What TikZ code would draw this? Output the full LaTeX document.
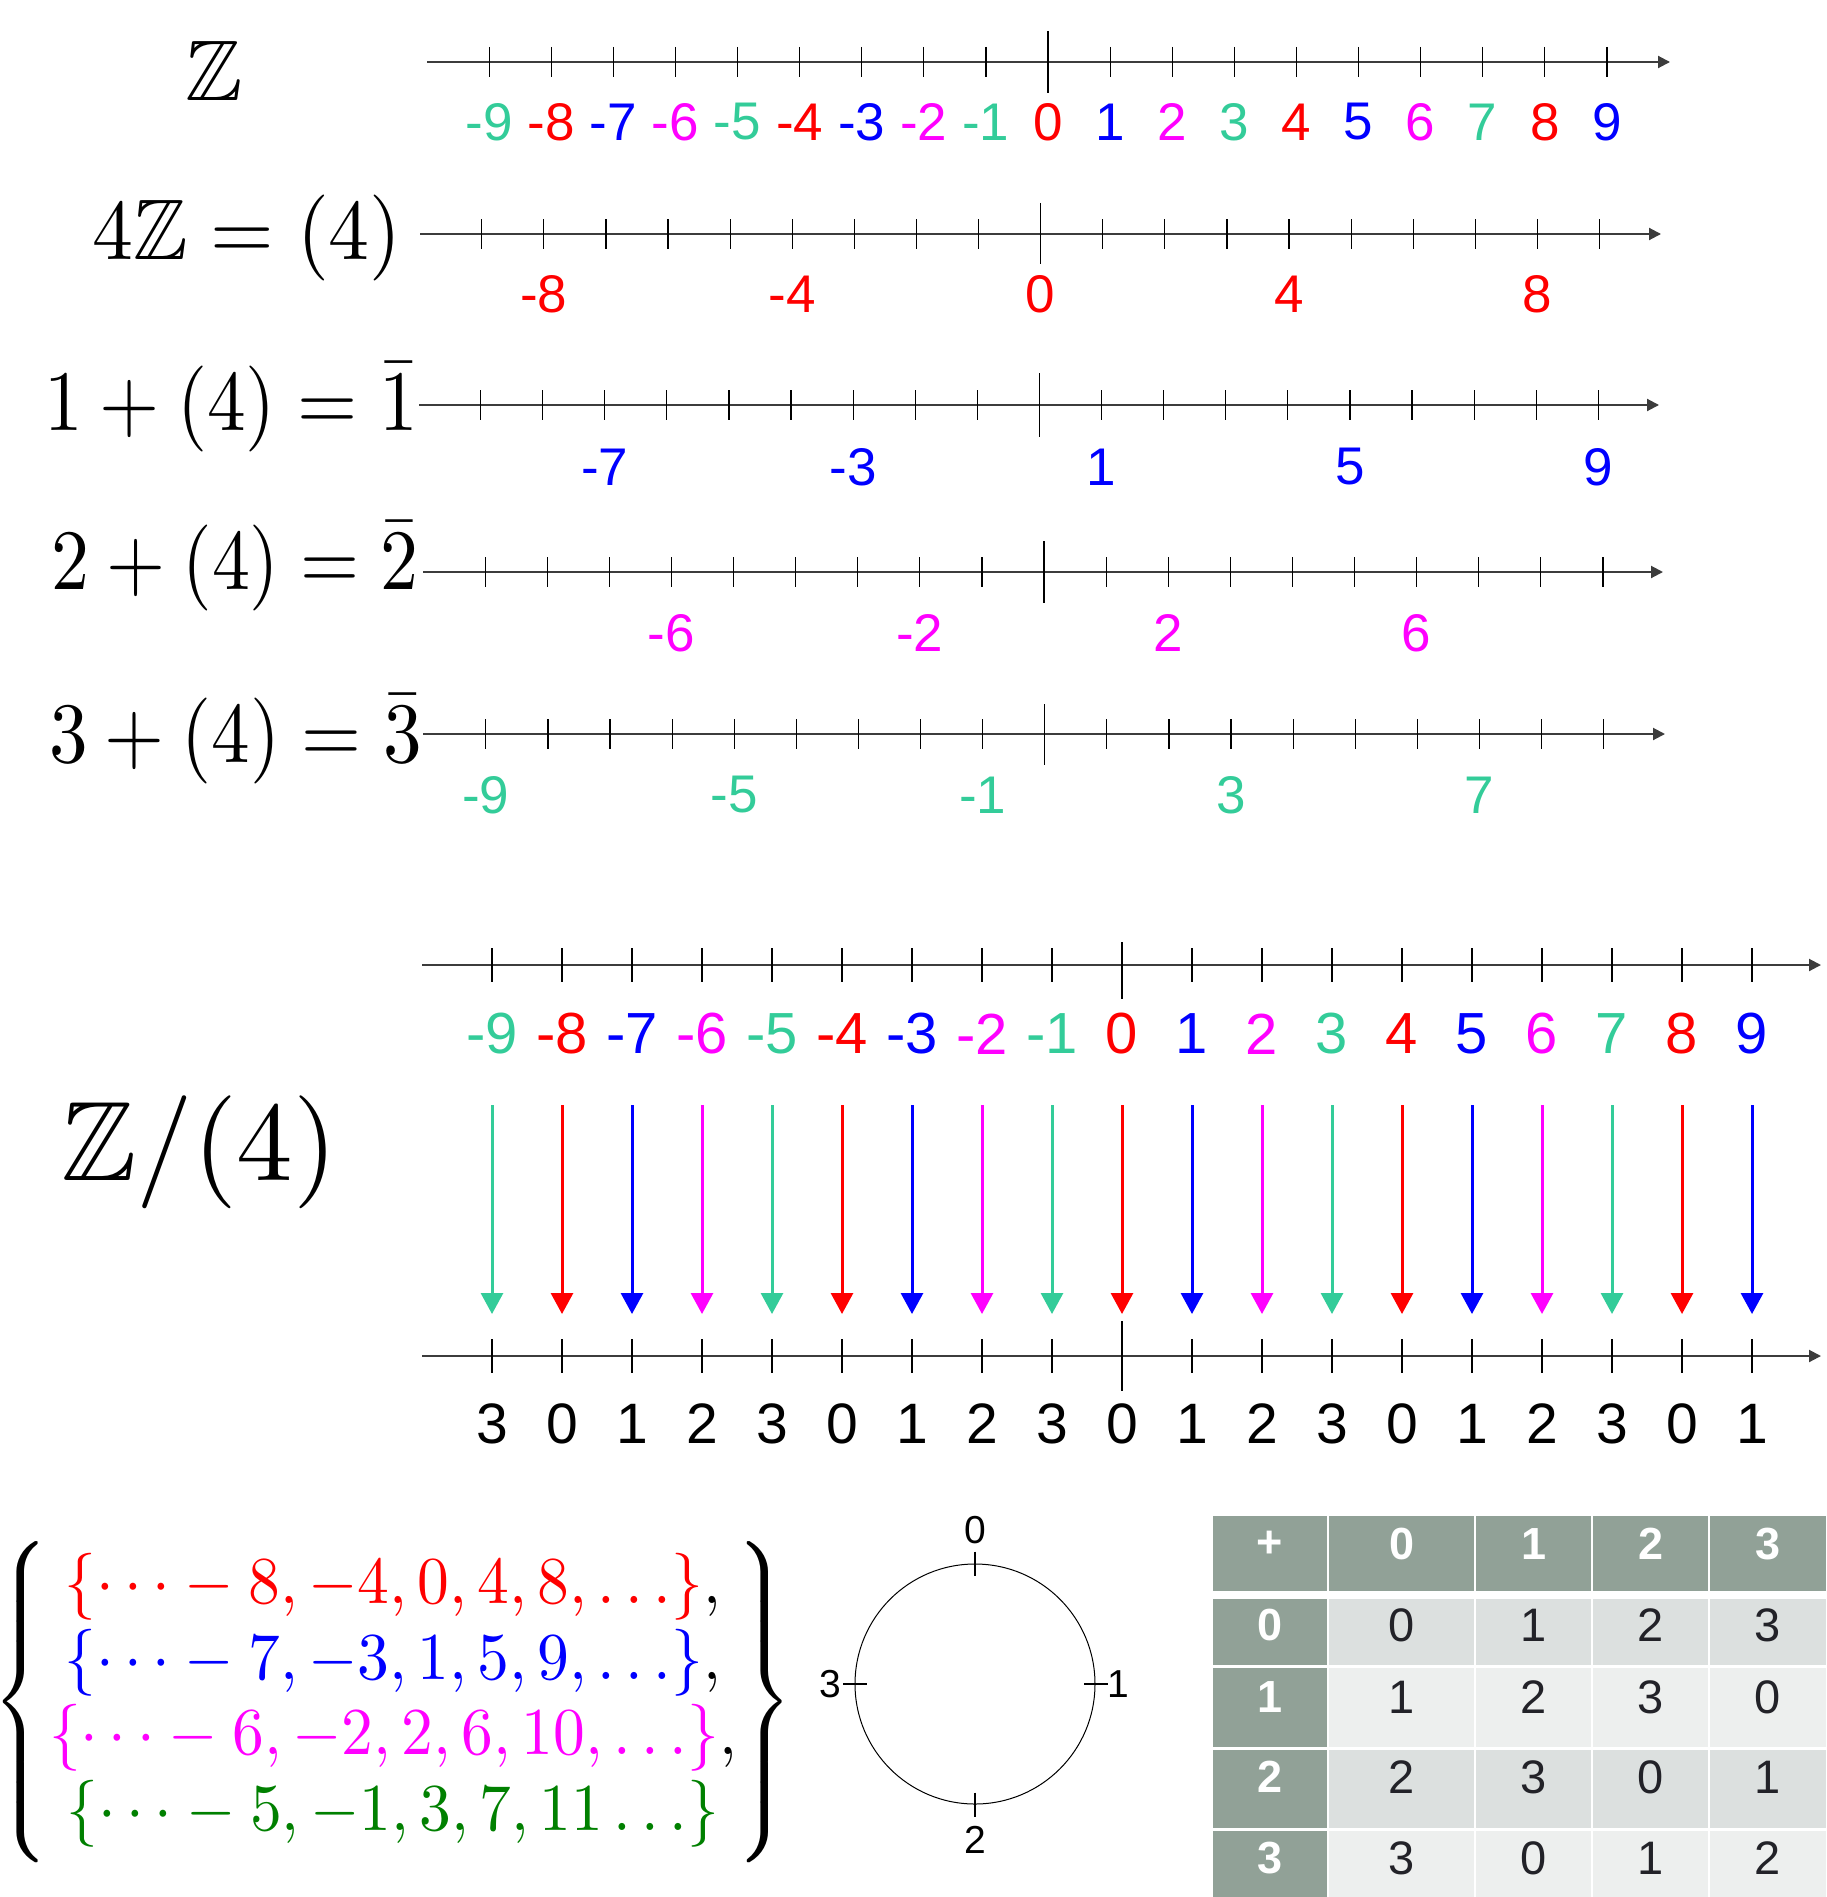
\documentclass[tikz,border=0pt]{standalone}
\usepackage{amsmath,amssymb}
\usepackage{graphicx}
\usepackage[no-math]{fontspec}
\setmainfont{Liberation Sans}
\usetikzlibrary{arrows.meta}
\definecolor{cR}{RGB}{255,0,0}
\definecolor{cB}{RGB}{0,0,255}
\definecolor{cM}{RGB}{255,0,255}
\definecolor{cT}{RGB}{51,204,153}
\definecolor{cG}{RGB}{0,128,0}
\definecolor{hdr}{RGB}{145,161,151}
\definecolor{bodyA}{RGB}{220,224,223}
\definecolor{bodyB}{RGB}{237,239,238}
\definecolor{txt}{RGB}{34,34,40}
\definecolor{axiscol}{RGB}{60,60,60}
\colorlet{col0}{cR}
\colorlet{col1}{cB}
\colorlet{col2}{cM}
\colorlet{col3}{cT}
\tikzset{
  axisline/.style={line width=2pt, draw=axiscol, -{Triangle[length=12pt,width=12pt]}},
  tickline/.style={line width=1.2pt, draw=black},
  lblA/.style={inner sep=0pt, font=\fontsize{53}{60}\selectfont},
  lblB/.style={inner sep=0pt, font=\fontsize{58}{64}\selectfont},
  lblC/.style={inner sep=0pt, font=\fontsize{57}{64}\selectfont, text=black},
  mathlbl/.style={inner sep=0pt},
  cirlbl/.style={inner sep=0pt, font=\fontsize{39}{44}\selectfont},
  hdrtxt/.style={inner sep=0pt, text=white, font=\bfseries\fontsize{45}{50}\selectfont},
  celltxt/.style={inner sep=0pt, text=txt, font=\fontsize{47}{52}\selectfont},
  resarrow/.style={line width=3pt, -{Triangle[length=21pt,width=22pt]}},
}
% #1 name, #2 y, #3 start x, #4 end x, #5 zero x, #6 spacing, #7 tick half, #8 zero tick up, #9 zero tick down
\newcommand\numline[9]{%
  \coordinate (#1s) at (#3,#2);
  \coordinate (#1e) at (#4,#2);
  \draw[axisline] (#1s) -- (#1e);
  \foreach \k in {-9,...,9}{\draw[tickline] ({#5+\k*#6},{#2-#7}) -- ({#5+\k*#6},{#2+#7});}
  \draw[tickline] (#5,{#2-#8}) -- (#5,{#2+#9});
}
\begin{document}
\begin{tikzpicture}[x=1pt,y=-1pt]
\useasboundingbox[fill=white] (0,0) rectangle (1826,1897);

% ---------- top five number lines ----------
\numline{ra}{62}{427}{1670}{1048}{62.1}{15}{31}{31}
\numline{rb}{234}{420}{1661}{1040.6}{62.1}{15}{31}{30}
\numline{rc}{405}{419}{1659}{1039.4}{62.1}{15}{32}{32}
\numline{rd}{572}{423}{1663}{1044}{62.1}{15}{31}{31}
\numline{re}{734}{423}{1665}{1044.7}{62.1}{15}{30}{31}

\foreach \k [count=\i] in {-9,...,9}{
  \pgfmathtruncatemacro\r{mod(\k+40,4)}
  \node[lblA, text=col\r] (za\i) at ({1048+\k*62.1},122) {\k};
}
\foreach \k [count=\i] in {-8,-4,0,4,8}{
  \node[lblA, text=cR] (zb\i) at ({1040.6+\k*62.1},294) {\k};
}
\foreach \k [count=\i] in {-7,-3,1,5,9}{
  \node[lblA, text=cB] (zc\i) at ({1039.4+\k*62.1},467) {\k};
}
\foreach \k [count=\i] in {-6,-2,2,6}{
  \node[lblA, text=cM] (zd\i) at ({1044+\k*62.1},633) {\k};
}
\foreach \k [count=\i] in {-9,-5,-1,3,7}{
  \node[lblA, text=cT] (ze\i) at ({1044.7+\k*62.1},795) {\k};
}

\node[mathlbl, anchor=base] (ma) at (214,101) {\scalebox{8.6}{$\mathbb{Z}$}};
\node[mathlbl, anchor=base east] (mb) at (402,259) {\scalebox{8.18}[8.6]{$4\mathbb{Z}=(4)$}};
\node[mathlbl, anchor=base east] (mc) at (418,430) {\scalebox{7.73}[8.6]{$1+(4)=\bar{1}$}};
\node[mathlbl, anchor=base east] (md) at (419,589) {\scalebox{7.59}[8.6]{$2+(4)=\bar{2}$}};
\node[mathlbl, anchor=base east] (me) at (422,762) {\scalebox{7.71}[8.6]{$3+(4)=\bar{3}$}};

% ---------- quotient map ----------
\node[mathlbl, anchor=base west] (mq) at (61,1180) {\scalebox{11.3}{$\mathbb{Z}/(4)$}};

\numline{qa}{965}{422}{1821}{1122}{70}{17}{23}{34}
\numline{qb}{1356}{422}{1821}{1122}{70}{17}{35}{35}

\foreach \k [count=\i] in {-9,...,9}{
  \pgfmathtruncatemacro\r{mod(\k+40,4)}
  \node[lblB, text=col\r] (qu\i) at ({1122+\k*70},1034) {\k};
  \node[lblC] (ql\i) at ({1122+\k*70},1424) {\r};
  \coordinate (as\i) at ({1122+\k*70},1105);
  \coordinate (ae\i) at ({1122+\k*70},1314);
  \draw[resarrow, draw=col\r, fill=col\r] (as\i) -- (ae\i);
}

% ---------- cosets ----------
\node[mathlbl] (set) at (393,1702) {\scalebox{6.35}[6.7]{\renewcommand\arraystretch{0.94}\delimitershortfall=-1.5pt\delimiterfactor=1001$\left\{\begin{array}{@{}c@{}}
{\color{cR}\{\cdots-8,-4,0,4,8,\ldots\}},\\
{\color{cB}\{\cdots-7,-3,1,5,9,\ldots\}},\\
{\color{cM}\{\cdots-6,-2,2,6,10,\ldots\}},\\
{\color{cG}\{\cdots-5,-1,3,7,11\ldots\}}
\end{array}\right\}$}};

% ---------- circle ----------
\node[draw, circle, minimum size=240pt, inner sep=0pt, line width=1pt] (ring) at (975,1684) {};
\draw[tickline] ([yshift=12pt]ring.north) -- ([yshift=-12pt]ring.north);
\draw[tickline] ([yshift=12pt]ring.south) -- ([yshift=-12pt]ring.south);
\draw[tickline] ([xshift=12pt]ring.east) -- ([xshift=-12pt]ring.east);
\draw[tickline] ([xshift=12pt]ring.west) -- ([xshift=-12pt]ring.west);
\node[cirlbl] (c0) at (975,1530) {0};
\node[cirlbl] (c1) at (1118,1684) {1};
\node[cirlbl] (c2) at (975,1840) {2};
\node[cirlbl] (c3) at (830,1684) {3};

% ---------- addition table ----------
\def\colL{{1213,1329,1476,1593,1710}}
\def\colR{{1327,1474,1591,1708,1826}}
\def\rowT{{1599,1668,1750,1831}}
\def\rowB{{1665,1747,1828,1897}}
\def\rowY{{1625,1697,1777,1858}}
\foreach \c in {0,...,4}{
  \pgfmathsetmacro\xl{\colL[\c]}
  \pgfmathsetmacro\xr{\colR[\c]}
  \fill[hdr] (\xl,1516) rectangle (\xr,1591);
}
\node[hdrtxt] (h0) at (1270,1544) {+};
\foreach \c in {1,...,4}{
  \pgfmathsetmacro\xl{\colL[\c]}
  \pgfmathsetmacro\xr{\colR[\c]}
  \pgfmathtruncatemacro\v{\c-1}
  \node[hdrtxt] (h\c) at ({(\xl+\xr)/2},1544) {\v};
}
\foreach \rr in {0,...,3}{
  \pgfmathsetmacro\yt{\rowT[\rr]}
  \pgfmathsetmacro\yb{\rowB[\rr]}
  \pgfmathsetmacro\yc{\rowY[\rr]}
  \pgfmathtruncatemacro\odd{mod(\rr,2)}
  \fill[hdr] (1213,\yt) rectangle (1327,\yb);
  \node[hdrtxt] (rh\rr) at (1270,\yc) {\rr};
  \foreach \c in {1,...,4}{
    \pgfmathsetmacro\xl{\colL[\c]}
    \pgfmathsetmacro\xr{\colR[\c]}
    \pgfmathtruncatemacro\v{mod(\rr+\c-1,4)}
    \ifnum\odd=0 \fill[bodyA] (\xl,\yt) rectangle (\xr,\yb);
    \else \fill[bodyB] (\xl,\yt) rectangle (\xr,\yb); \fi
    \node[celltxt] (t\rr\c) at ({(\xl+\xr)/2},\yc) {\v};
  }
}
\end{tikzpicture}
\end{document}
